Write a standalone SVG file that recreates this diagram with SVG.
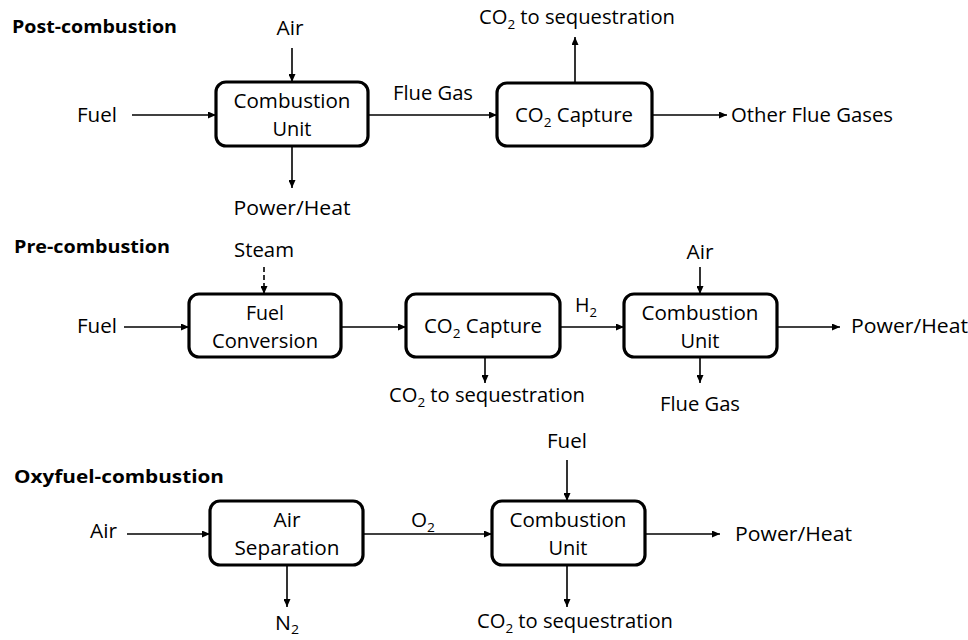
<svg xmlns="http://www.w3.org/2000/svg" width="968" height="640" viewBox="0 0 968 640">
<defs>
<marker id="ah" markerUnits="userSpaceOnUse" markerWidth="8" markerHeight="7" refX="8" refY="3.5" orient="auto">
<path d="M0,0 L8,3.5 L0,7 z" fill="#000"/>
</marker>
<style>
text{font-family:"Open Sans","Liberation Sans",sans-serif;font-size:19.5px;fill:#000}
.t{font-weight:bold;font-size:18px}
.m{text-anchor:middle}
.b{fill:#fff;stroke:#000;stroke-width:3.2}
.c line{stroke:#000;stroke-width:1.6;marker-end:url(#ah)}
.s{font-size:13px}
</style>
</defs>
<rect width="968" height="640" fill="#fff"/>
<g id="titles">
<text class="t" x="12" y="33" textLength="165" lengthAdjust="spacingAndGlyphs">Post-combustion</text>
<text class="t" x="14" y="253" textLength="156" lengthAdjust="spacingAndGlyphs">Pre-combustion</text>
<text class="t" x="14" y="483" textLength="210" lengthAdjust="spacingAndGlyphs">Oxyfuel-combustion</text>
</g>
<g class="c" id="connectors">
<line x1="292" y1="48" x2="292" y2="82"/>
<line x1="132" y1="115" x2="216" y2="115"/>
<line x1="292" y1="146" x2="292" y2="188"/>
<line x1="368" y1="115" x2="497" y2="115"/>
<line x1="575" y1="83" x2="575" y2="37"/>
<line x1="652" y1="115" x2="727" y2="115"/>
<line x1="264" y1="267" x2="264" y2="294" stroke-dasharray="5,3"/>
<line x1="124" y1="327" x2="189" y2="327"/>
<line x1="341" y1="327" x2="406" y2="327"/>
<line x1="485" y1="357" x2="485" y2="383"/>
<line x1="560" y1="327" x2="624" y2="327"/>
<line x1="700" y1="267" x2="700" y2="294"/>
<line x1="700" y1="357" x2="700" y2="383"/>
<line x1="777" y1="327" x2="840" y2="327"/>
<line x1="127" y1="534" x2="210" y2="534"/>
<line x1="287" y1="565" x2="287" y2="607"/>
<line x1="363" y1="534" x2="492" y2="534"/>
<line x1="567" y1="460" x2="567" y2="501"/>
<line x1="567" y1="565" x2="567" y2="607"/>
<line x1="645" y1="534" x2="720" y2="534"/>
</g>
<g id="labels">
<text x="290" y="35" class="m" textLength="27" lengthAdjust="spacingAndGlyphs">Air</text>
<text x="77" y="122" textLength="40" lengthAdjust="spacingAndGlyphs">Fuel</text>
<text x="292" y="215" class="m" textLength="117" lengthAdjust="spacingAndGlyphs">Power/Heat</text>
<text x="393" y="100" textLength="80" lengthAdjust="spacingAndGlyphs">Flue Gas</text>
<text x="479" y="24" textLength="196" lengthAdjust="spacingAndGlyphs">CO<tspan class="s" dy="5">2</tspan><tspan dy="-5"> to sequestration</tspan></text>
<text x="731" y="122" textLength="162" lengthAdjust="spacingAndGlyphs">Other Flue Gases</text>
<text x="264" y="257" class="m" textLength="60" lengthAdjust="spacingAndGlyphs">Steam</text>
<text x="77" y="333" textLength="40" lengthAdjust="spacingAndGlyphs">Fuel</text>
<text x="389" y="402" textLength="196" lengthAdjust="spacingAndGlyphs">CO<tspan class="s" dy="5">2</tspan><tspan dy="-5"> to sequestration</tspan></text>
<text x="575" y="312" textLength="22" lengthAdjust="spacingAndGlyphs">H<tspan class="s" dy="5">2</tspan></text>
<text x="700" y="259" class="m" textLength="27" lengthAdjust="spacingAndGlyphs">Air</text>
<text x="700" y="411" class="m" textLength="80" lengthAdjust="spacingAndGlyphs">Flue Gas</text>
<text x="851" y="333" textLength="117" lengthAdjust="spacingAndGlyphs">Power/Heat</text>
<text x="90" y="538" textLength="27" lengthAdjust="spacingAndGlyphs">Air</text>
<text x="287" y="630" class="m" textLength="24" lengthAdjust="spacingAndGlyphs">N<tspan class="s" dy="4">2</tspan></text>
<text x="411" y="527" textLength="24" lengthAdjust="spacingAndGlyphs">O<tspan class="s" dy="5">2</tspan></text>
<text x="567" y="448" class="m" textLength="40" lengthAdjust="spacingAndGlyphs">Fuel</text>
<text x="477" y="628" textLength="196" lengthAdjust="spacingAndGlyphs">CO<tspan class="s" dy="5">2</tspan><tspan dy="-5"> to sequestration</tspan></text>
<text x="735" y="541" textLength="117" lengthAdjust="spacingAndGlyphs">Power/Heat</text>
</g>
<g id="post-combustion-unit">
<rect class="b" x="216" y="82" width="152" height="64" rx="10"/>
<text x="292" y="108" class="m" textLength="117" lengthAdjust="spacingAndGlyphs">Combustion</text>
<text x="292" y="136" class="m" textLength="39" lengthAdjust="spacingAndGlyphs">Unit</text>
</g>
<g id="post-co2-capture">
<rect class="b" x="497" y="83" width="155" height="63" rx="10"/>
<text x="574" y="122" class="m" textLength="118" lengthAdjust="spacingAndGlyphs">CO<tspan class="s" dy="5">2</tspan><tspan dy="-5"> Capture</tspan></text>
</g>
<g id="pre-fuel-conversion">
<rect class="b" x="189" y="294" width="152" height="63" rx="10"/>
<text x="265" y="320" class="m" textLength="38" lengthAdjust="spacingAndGlyphs">Fuel</text>
<text x="265" y="348" class="m" textLength="106" lengthAdjust="spacingAndGlyphs">Conversion</text>
</g>
<g id="pre-co2-capture">
<rect class="b" x="406" y="294" width="154" height="63" rx="10"/>
<text x="483" y="333" class="m" textLength="118" lengthAdjust="spacingAndGlyphs">CO<tspan class="s" dy="5">2</tspan><tspan dy="-5"> Capture</tspan></text>
</g>
<g id="pre-combustion-unit">
<rect class="b" x="624" y="294" width="153" height="63" rx="10"/>
<text x="700" y="320" class="m" textLength="117" lengthAdjust="spacingAndGlyphs">Combustion</text>
<text x="700" y="348" class="m" textLength="39" lengthAdjust="spacingAndGlyphs">Unit</text>
</g>
<g id="oxy-air-separation">
<rect class="b" x="210" y="501" width="153" height="64" rx="10"/>
<text x="287" y="527" class="m" textLength="27" lengthAdjust="spacingAndGlyphs">Air</text>
<text x="287" y="555" class="m" textLength="105" lengthAdjust="spacingAndGlyphs">Separation</text>
</g>
<g id="oxy-combustion-unit">
<rect class="b" x="492" y="501" width="153" height="64" rx="10"/>
<text x="568" y="527" class="m" textLength="117" lengthAdjust="spacingAndGlyphs">Combustion</text>
<text x="568" y="555" class="m" textLength="39" lengthAdjust="spacingAndGlyphs">Unit</text>
</g>
</svg>
